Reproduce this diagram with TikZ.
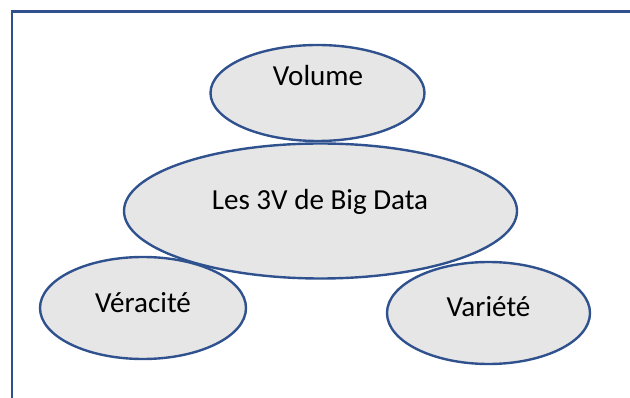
\documentclass[tikz,border=0pt]{standalone}
\usepackage{fontspec}
\setmainfont{Carlito}
\usetikzlibrary{shapes.geometric}
\definecolor{vblue}{HTML}{2F528F}
\definecolor{vgray}{HTML}{E7E6E6}

\begin{document}
\begin{tikzpicture}[
  x=0.75pt, y=-0.75pt,
  bubble/.style={ellipse, draw=vblue, fill=vgray, line width=1.8pt, inner sep=0pt},
  lbl/.style={anchor=base, inner sep=0pt, font=\fontsize{21.8}{26}\selectfont},
]
\useasboundingbox (0,0) rectangle (630,398);
\clip (0,0) rectangle (630,398);

% Frame
\draw[vblue, line width=1.9pt] (12,410) -- (12,11.5) -- (640,11.5);

% Bubbles
\node[bubble, minimum width=160.5pt, minimum height=72pt] (vol) at (317.5,93) {};
\node[bubble, minimum width=154.5pt, minimum height=76.5pt] (ver) at (143,308) {};
\node[bubble, minimum width=152.25pt, minimum height=76.5pt] (var) at (488.5,313) {};
\node[bubble, minimum width=294.75pt, minimum height=101.25pt] (bigdata) at (320.5,211) {};

% Texts
\node[lbl] (tvol) at (318,86) {Volume};
\node[lbl] (tbig) at (320,210) {Les 3V de Big Data};
\node[lbl] (tver) at (143,312) {Véracité};
\node[lbl] (tvar) at (488.5,316) {Variété};

\end{tikzpicture}
\end{document}
